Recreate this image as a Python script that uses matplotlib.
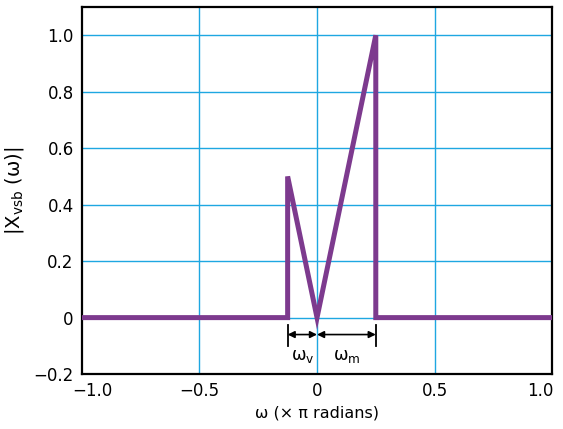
import matplotlib
matplotlib.use("Agg")
import matplotlib.pyplot as plt

# Data
omega = [-1.0, -0.125, -0.125, 0.0, 0.25, 0.25, 1.0]
mag = [0.0, 0.0, 0.5, 0.0, 1.0, 0.0, 0.0]
omega_v = [-0.125, 0.0]
omega_m = [0.0, 0.25]
xticks = [-1.0, -0.5, 0.0, 0.5, 1.0]
xticklabels = ["\u22121.0", "\u22120.5", "0", "0.5", "1.0"]
yticks = [-0.2, 0.0, 0.2, 0.4, 0.6, 0.8, 1.0]
yticklabels = ["\u22120.2", "0", "0.2", "0.4", "0.6", "0.8", "1.0"]

plt.rcParams['font.family'] = ['DejaVu Sans']
plt.rcParams['mathtext.default'] = 'regular'
fig = plt.figure(figsize=(5.63, 4.29), dpi=100)
ax = fig.add_axes([0.1456, 0.128, 0.835, 0.8557])

grid_c = '#1ea7e1'
for x in xticks[1:-1]:
    ax.axvline(x, color=grid_c, lw=1.0, zorder=1)
for y in yticks[1:]:
    ax.axhline(y, color=grid_c, lw=1.0, zorder=1)

ax.plot(omega, mag, color='#7d3a8e', lw=3.6, solid_joinstyle='miter', zorder=3)

# annotation arrows
ya = -0.06
for x in [omega_v[0], omega_m[1]]:
    ax.plot([x, x], [-0.025, -0.1], color='black', lw=1.3, zorder=4)
for seg in (omega_v, omega_m):
    ax.annotate('', xy=(seg[0], ya), xytext=(seg[1], ya),
                arrowprops=dict(arrowstyle='<|-|>', color='black', lw=1.2,
                                mutation_scale=10, shrinkA=0, shrinkB=0), zorder=4)
ax.text(sum(omega_v) / 2, -0.135, '\u03c9$_v$', ha='center', va='center', fontsize=12.5)
ax.text(sum(omega_m) / 2, -0.135, '\u03c9$_m$', ha='center', va='center', fontsize=12.5)

ax.set_xlim(-1, 1)
ax.set_ylim(-0.2, 1.1)
ax.set_xticks(xticks)
ax.set_xticklabels(xticklabels)
ax.set_yticks(yticks)
ax.set_yticklabels(yticklabels)
ax.tick_params(length=0, labelsize=12, pad=6)
labs = ax.get_xticklabels()
labs[-1].set_horizontalalignment('right')
labs[0].set_horizontalalignment('left')
from matplotlib.transforms import ScaledTranslation
labs[-1].set_transform(labs[-1].get_transform() + ScaledTranslation(0.01, 0, fig.dpi_scale_trans))
labs[0].set_transform(labs[0].get_transform() + ScaledTranslation(-0.10, 0, fig.dpi_scale_trans))
for s in ax.spines.values():
    s.set_linewidth(1.6)
ax.set_xlabel('\u03c9 (\u00d7 \u03c0 radians)', fontsize=11.5, labelpad=4)
ax.set_ylabel('|X$_{vsb}$ (\u03c9)|', fontsize=14, labelpad=5)

fig.savefig('out.png', dpi=100)
